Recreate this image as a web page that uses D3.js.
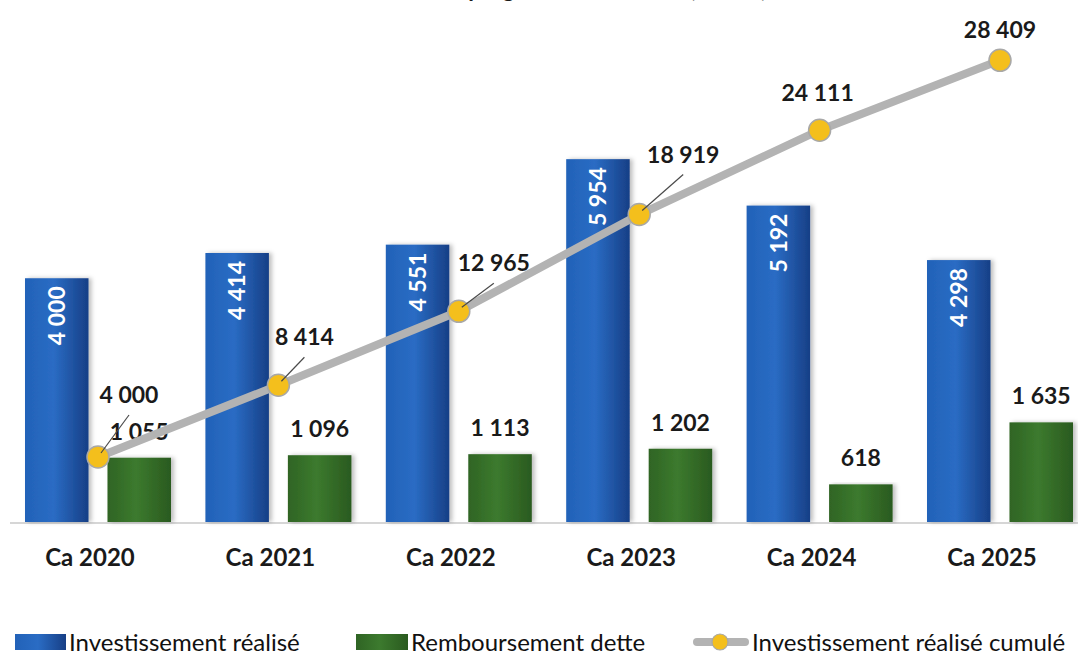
<!DOCTYPE html>
<html>
<head>
<meta charset="utf-8">
<script src="https://cdn.jsdelivr.net/npm/d3@7"></script>
<style>
  body { margin: 0; background: #ffffff; }
  text { font-family: Lato, "Open Sans", sans-serif; }
</style>
</head>
<body>
<div id="canvas"></div>
<script>
// Size of the canvas.
const WIDTH = 1078;
const HEIGHT = 657;
const BASE_Y = 522;

// The data.
const categories = ["Ca 2020", "Ca 2021", "Ca 2022", "Ca 2023", "Ca 2024", "Ca 2025"];
const investissement = [4000, 4414, 4551, 5954, 5192, 4298];
const remboursement = [1055, 1096, 1113, 1202, 618, 1635];
const cumul = [4000, 8414, 12965, 18919, 24111, 28409];
const seriesNames = ["Investissement réalisé", "Remboursement dette", "Investissement réalisé cumulé"];
const title = "Investissement programmé et réalisé (en M€)";

// Where the cumulative labels sit relative to their point (and whether they get a leader line).
const cumLabelOffsets = [[31, -54, true], [26, -40, true], [35, -40, true], [44, -52, true], [-2, -29, false], [0, -22, false]];

const fmt = (v) => d3.format(",")(v).replace(/,/g, " ");

const svg = d3.select("#canvas")
    .append("svg")
    .attr("width", WIDTH)
    .attr("height", HEIGHT);

// Gradients and shadow.
const defs = svg.append("defs");
const blueGrad = defs.append("linearGradient").attr("id", "blueGrad");
blueGrad.append("stop").attr("offset", "0%").attr("stop-color", "#2262b8");
blueGrad.append("stop").attr("offset", "45%").attr("stop-color", "#2a6cc4");
blueGrad.append("stop").attr("offset", "100%").attr("stop-color", "#173f86");
const greenGrad = defs.append("linearGradient").attr("id", "greenGrad");
greenGrad.append("stop").attr("offset", "0%").attr("stop-color", "#2f6424");
greenGrad.append("stop").attr("offset", "45%").attr("stop-color", "#3c7a2e");
greenGrad.append("stop").attr("offset", "100%").attr("stop-color", "#2a5a1f");
defs.append("filter").attr("id", "shadow")
    .attr("x", "-20%").attr("y", "-5%").attr("width", "150%").attr("height", "110%")
    .append("feDropShadow")
    .attr("dx", 3).attr("dy", 0).attr("stdDeviation", 2)
    .attr("flood-color", "#000").attr("flood-opacity", 0.25);

// Scales.
const x0 = d3.scaleBand()
    .domain(categories)
    .range([7.8, 1090.2]);

const x1 = d3.scaleBand()
    .domain(["inv", "remb"])
    .range([17.2, 163.2])
    .paddingInner(0.23);

const y = d3.scaleLinear()
    .domain([0, 8500])
    .range([BASE_Y, 4]);

const yCum = d3.scaleLinear()
    .domain([0, 32000])
    .range([BASE_Y, 2]);

const cx = (c) => x0(c) + x0.bandwidth() / 2;

// Title (cut off at the top of the picture, only its lowest strokes show).
svg.append("text")
    .attr("x", 538)
    .attr("y", -3)
    .attr("text-anchor", "middle")
    .style("font-size", "23px")
    .style("font-weight", "bold")
    .style("fill", "#1a1a1a")
    .text(title);

// Baseline.
svg.append("line")
    .attr("x1", 10).attr("x2", WIDTH)
    .attr("y1", BASE_Y + 1).attr("y2", BASE_Y + 1)
    .style("stroke", "#d6d6d6")
    .style("stroke-width", 2);

// Blue bars.
svg.append("g")
    .selectAll("rect")
    .data(investissement)
    .enter()
    .append("rect")
    .attr("x", (d, i) => x0(categories[i]) + x1("inv"))
    .attr("y", (d) => y(d))
    .attr("width", x1.bandwidth())
    .attr("height", (d) => y(0) - y(d))
    .attr("filter", "url(#shadow)")
    .style("fill", "url(#blueGrad)");

// Green bars.
svg.append("g")
    .selectAll("rect")
    .data(remboursement)
    .enter()
    .append("rect")
    .attr("x", (d, i) => x0(categories[i]) + x1("remb"))
    .attr("y", (d) => y(d))
    .attr("width", x1.bandwidth())
    .attr("height", (d) => y(0) - y(d))
    .attr("filter", "url(#shadow)")
    .style("fill", "url(#greenGrad)");

// Labels inside the blue bars.
svg.append("g")
    .selectAll("text")
    .data(investissement)
    .enter()
    .append("text")
    .attr("transform", (d, i) =>
        `translate(${x0(categories[i]) + x1("inv") + x1.bandwidth() / 2}, ${y(d) + 8}) rotate(-90)`)
    .attr("text-anchor", "end")
    .attr("dy", "0.36em")
    .style("font-size", "23px")
    .style("font-weight", "bold")
    .style("fill", "#ffffff")
    .text((d) => fmt(d));

// Labels above the green bars.
svg.append("g")
    .selectAll("text")
    .data(remboursement)
    .enter()
    .append("text")
    .attr("x", (d, i) => x0(categories[i]) + x1("remb") + x1.bandwidth() / 2)
    .attr("y", (d) => y(d) - 18)
    .attr("text-anchor", "middle")
    .style("font-size", "23px")
    .style("font-weight", "bold")
    .style("fill", "#1a1a1a")
    .text((d) => fmt(d));

// Cumulative line.
const line = d3.line()
    .x((d, i) => cx(categories[i]))
    .y((d) => yCum(d));

svg.append("path")
    .datum(cumul)
    .attr("d", line)
    .style("fill", "none")
    .style("stroke", "#b3b3b3")
    .style("stroke-width", 8);

svg.append("g")
    .selectAll("circle")
    .data(cumul)
    .enter()
    .append("circle")
    .attr("cx", (d, i) => cx(categories[i]))
    .attr("cy", (d) => yCum(d))
    .attr("r", 11)
    .style("fill", "#f4bf1c")
    .style("stroke", "#a8a8a8")
    .style("stroke-width", 1.5);

// Leader lines and cumulative labels.
svg.append("g")
    .selectAll("line")
    .data(cumul.filter((d, i) => cumLabelOffsets[i][2]))
    .enter()
    .append("line")
    .attr("x1", (d, i) => cx(categories[i]) + 3)
    .attr("y1", (d) => yCum(d) - 4)
    .attr("x2", (d, i) => cx(categories[i]) + cumLabelOffsets[i][0])
    .attr("y2", (d, i) => yCum(d) + cumLabelOffsets[i][1] + 12)
    .style("stroke", "#4a4a4a")
    .style("stroke-width", 1.2);

svg.append("g")
    .selectAll("text")
    .data(cumul)
    .enter()
    .append("text")
    .attr("x", (d, i) => cx(categories[i]) + cumLabelOffsets[i][0])
    .attr("y", (d, i) => yCum(d) + cumLabelOffsets[i][1])
    .attr("text-anchor", "middle")
    .style("font-size", "23px")
    .style("font-weight", "bold")
    .style("fill", "#1a1a1a")
    .text((d) => fmt(d));

// Category labels.
svg.append("g")
    .selectAll("text")
    .data(categories)
    .enter()
    .append("text")
    .attr("x", (d) => cx(d) - 8)
    .attr("y", 566)
    .attr("text-anchor", "middle")
    .style("font-size", "24px")
    .style("font-weight", "bold")
    .style("fill", "#1a1a1a")
    .text((d) => d);

// Legend.
const legend = svg.append("g").attr("transform", "translate(0, 642)");

legend.append("rect")
    .attr("x", 15).attr("y", -8).attr("width", 51).attr("height", 16)
    .style("fill", "url(#blueGrad)");
legend.append("rect")
    .attr("x", 356).attr("y", -8).attr("width", 52).attr("height", 16)
    .style("fill", "url(#greenGrad)");
legend.append("line")
    .attr("x1", 697).attr("x2", 745).attr("y1", 0).attr("y2", 0)
    .style("stroke", "#b3b3b3")
    .style("stroke-width", 8)
    .style("stroke-linecap", "round");
legend.append("circle")
    .attr("cx", 720).attr("cy", 0).attr("r", 8)
    .style("fill", "#f4bf1c")
    .style("stroke", "#a8a8a8")
    .style("stroke-width", 1.2);

legend.selectAll("text.lg")
    .data(seriesNames)
    .enter()
    .append("text")
    .attr("class", "lg")
    .attr("x", (d, i) => [69, 411, 752][i])
    .attr("y", 0)
    .attr("dy", "0.36em")
    .style("font-size", "24px")
    .style("fill", "#111111")
    .text((d) => d);
</script>
</body>
</html>
